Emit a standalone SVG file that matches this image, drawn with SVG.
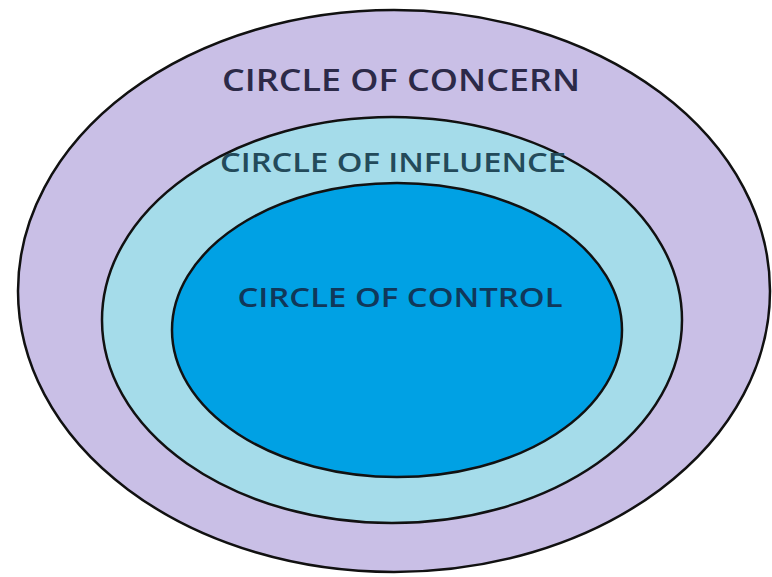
<svg xmlns="http://www.w3.org/2000/svg" width="772" height="577" viewBox="0 0 772 577">
<style>
.ring{stroke:#111;stroke-width:2.5}
.lbl{font-family:"Open Sans","Liberation Sans",sans-serif;text-anchor:middle;font-weight:600}
</style>
<rect width="772" height="577" fill="#ffffff"/>
<g id="concern">
<ellipse class="ring" cx="394" cy="291" rx="376" ry="281" fill="#c9bfe6"/>
<text class="lbl" x="401" y="91" font-size="31" fill="#2c2a48" textLength="358" lengthAdjust="spacingAndGlyphs">CIRCLE OF CONCERN</text>
</g>
<g id="influence">
<ellipse class="ring" cx="392" cy="320" rx="290" ry="203" fill="#a5dcea"/>
<text class="lbl" x="393" y="172" font-size="27" fill="#234a5a" textLength="346" lengthAdjust="spacingAndGlyphs">CIRCLE OF INFLUENCE</text>
</g>
<g id="control">
<ellipse class="ring" cx="397" cy="330" rx="225" ry="147" fill="#00a1e4"/>
<text class="lbl" x="400" y="307" font-size="27" fill="#10385a" textLength="325" lengthAdjust="spacingAndGlyphs">CIRCLE OF CONTROL</text>
</g>
<g id="connectors"/>
</svg>
